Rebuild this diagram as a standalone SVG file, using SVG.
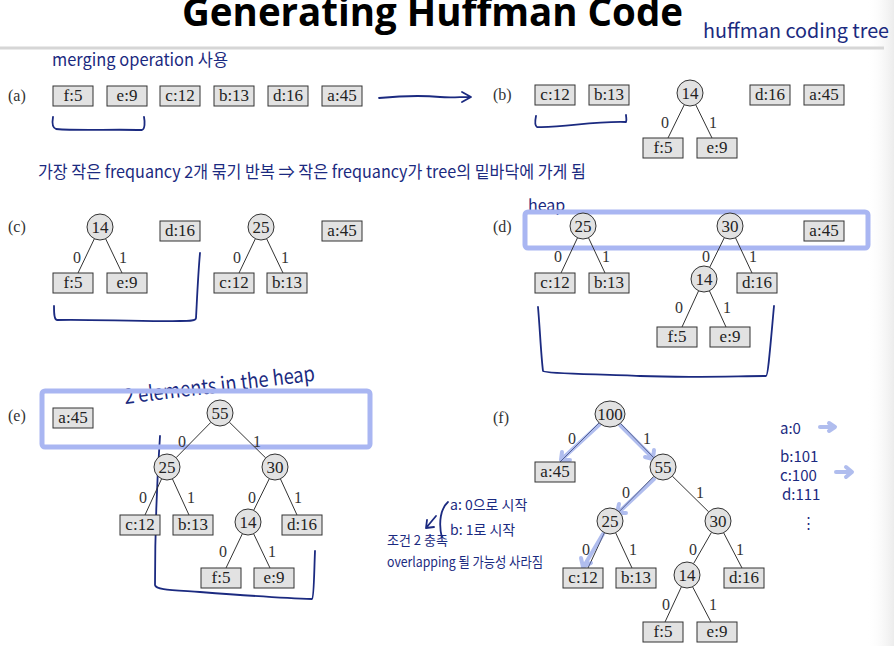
<svg xmlns="http://www.w3.org/2000/svg" width="894" height="646" viewBox="0 0 894 646">
<style>
.box{fill:#e2e2e2;stroke:#333;stroke-width:1}
.lbl{font-family:"Liberation Serif",serif;font-size:17px;fill:#222;text-anchor:middle}
.pl{font-family:"Liberation Serif",serif;font-size:16px;fill:#333}
.edge{stroke:#333;stroke-width:1;fill:none}
.el{font-family:"Liberation Serif",serif;font-size:16px;fill:#333;text-anchor:middle}
.hand{font-family:"Noto Sans CJK KR","Noto Sans",sans-serif;fill:#1b2a80}
.ink{fill:none;stroke:#1b2a80;stroke-width:1.8;stroke-linecap:round;stroke-linejoin:round}
.hl{fill:none;stroke:#a9b6f2;stroke-width:5}
.bl{fill:none;stroke:#6f86e0;stroke-opacity:0.55;stroke-width:4;stroke-linecap:round;stroke-linejoin:round}
</style>
<defs>
<linearGradient id="edgeg" x1="0" x2="1" y1="0" y2="0">
<stop offset="0" stop-color="#ffffff" stop-opacity="0"/>
<stop offset="1" stop-color="#ececec"/>
</linearGradient>
</defs>
<rect width="894" height="646" fill="#fff"/>
<rect x="866" y="0" width="28" height="646" fill="url(#edgeg)"/>

<text x="182" y="26" font-family="'Open Sans','Liberation Sans',sans-serif" font-weight="bold" font-size="40" textLength="501" lengthAdjust="spacingAndGlyphs" fill="#000">Generating Huffman Code</text>
<line x1="0" y1="48" x2="884" y2="48" stroke="#d6d6d6" stroke-width="3"/>

<!-- handwritten annotations -->
<g id="annotations">
<text class="hand" x="703" y="38" font-size="20" textLength="186" lengthAdjust="spacingAndGlyphs">huffman coding tree</text>
<text class="hand" x="52" y="66" font-size="17" textLength="176" lengthAdjust="spacingAndGlyphs">merging operation 사용</text>
<text class="hand" x="38" y="178" font-size="17" textLength="548" lengthAdjust="spacingAndGlyphs">가장 작은 frequancy 2개 묶기 반복 ⇒ 작은 frequancy가 tree의 밑바닥에 가게 됨</text>
<text class="hand" x="528" y="211" font-size="16">heap</text>
<text class="hand" x="125" y="404" font-size="21" textLength="192" lengthAdjust="spacingAndGlyphs" transform="rotate(-7 125 404)">2 elements in the heap</text>
<text class="hand" x="450" y="510" font-size="14">a: 0으로 시작</text>
<text class="hand" x="450" y="535" font-size="14">b: 1로 시작</text>
<text class="hand" x="387" y="545" font-size="13">조건 2 충족</text>
<text class="hand" x="387" y="567" font-size="14" textLength="156" lengthAdjust="spacingAndGlyphs">overlapping 될 가능성 사라짐</text>
<path class="ink" d="M448 502 C441 508 438 522 442 538"/>
<path class="ink" d="M436 516 L426 528 M426 528 L427 520 M426 528 L434 527"/>
<text class="hand" x="780" y="434" font-size="15">a:0</text>
<text class="hand" x="780" y="462" font-size="15">b:101</text>
<text class="hand" x="780" y="481" font-size="15">c:100</text>
<text class="hand" x="782" y="500" font-size="15">d:111</text>
<text class="hand" x="801" y="528" font-size="15">⋮</text>
<path class="bl" d="M820 427 L834 427 M829 423 L835 427 L829 431"/>
<path class="bl" d="M836 472 L851 472 M846 467 L852 472 L846 477"/>
<!-- brackets -->
<path class="ink" d="M53 117 C52 123 53 128 56 129 C80 131 110 129 142 130 C145 129 145 122 144 117"/>
<path class="ink" d="M536 116 C535 121 535 126 537 127 C565 128 590 121 626 122 C627 120 626 117 626 115"/>
<path class="ink" d="M200 253 C198 275 197 300 196 318 C196 321 190 321 180 321 C140 322 90 319 57 320 C54 320 54 312 54 306"/>
<path class="ink" d="M538 307 C540 330 541 355 543 371 C545 374 600 374 640 376 C690 378 740 376 766 376 C768 376 770 350 774 306"/>
<path class="ink" d="M160 436 C157 480 155 540 155 585 C156 590 170 590 200 592 C240 595 280 598 312 599 C314 598 314 575 315 551"/>
<!-- arrow (a) -> (b) -->
<path class="ink" d="M379 98 C400 96 420 95 440 97 C450 98 460 97 470 97 M462 92 L471 97 L462 102"/>
<!-- highlight boxes -->
<rect class="hl" x="525" y="212" width="343" height="36" rx="3"/>
<rect class="hl" x="42" y="391" width="328" height="56" rx="3"/>
</g>

<!-- panel labels -->
<g id="panel-labels">
<text class="pl" x="8" y="101">(a)</text>
<text class="pl" x="493" y="100">(b)</text>
<text class="pl" x="8" y="232">(c)</text>
<text class="pl" x="493" y="232">(d)</text>
<text class="pl" x="8" y="421">(e)</text>
<text class="pl" x="493" y="423">(f)</text>
</g>

<!-- connectors -->
<g id="connectors">
<!-- b -->
<line class="edge" x1="684.3" y1="104.7" x2="668" y2="138"/>
<line class="edge" x1="695.7" y1="104.7" x2="712" y2="138"/>
<!-- c -->
<line class="edge" x1="94.4" y1="238.7" x2="78" y2="273"/>
<line class="edge" x1="105.6" y1="238.7" x2="122" y2="273"/>
<line class="edge" x1="255.4" y1="238.7" x2="239" y2="273"/>
<line class="edge" x1="266.6" y1="238.7" x2="283" y2="273"/>
<!-- d -->
<line class="edge" x1="577.5" y1="237.8" x2="561" y2="273"/>
<line class="edge" x1="588.5" y1="237.8" x2="605" y2="273"/>
<line class="edge" x1="724.3" y1="237.7" x2="709.7" y2="267.3"/>
<line class="edge" x1="735.5" y1="237.8" x2="752" y2="273"/>
<line class="edge" x1="698.6" y1="290.8" x2="682" y2="327"/>
<line class="edge" x1="709.4" y1="290.8" x2="726" y2="327"/>
<!-- e -->
<line class="edge" x1="210.9" y1="422.3" x2="176.1" y2="457.7"/>
<line class="edge" x1="229.3" y1="422.1" x2="265.7" y2="457.9"/>
<line class="edge" x1="161.6" y1="478.8" x2="145" y2="515"/>
<line class="edge" x1="172.4" y1="478.8" x2="189" y2="515"/>
<line class="edge" x1="269.3" y1="478.7" x2="253.7" y2="510.3"/>
<line class="edge" x1="280.4" y1="478.8" x2="297" y2="515"/>
<line class="edge" x1="242.4" y1="533.7" x2="226" y2="568"/>
<line class="edge" x1="253.6" y1="533.7" x2="270" y2="568"/>
<!-- f -->
<line class="edge" x1="599" y1="423" x2="560" y2="462"/>
<line class="edge" x1="620.5" y1="423.5" x2="653.8" y2="457.8"/>
<line class="edge" x1="653.9" y1="476.3" x2="619.1" y2="511.7"/>
<line class="edge" x1="672.3" y1="476.1" x2="708.7" y2="511.9"/>
<line class="edge" x1="604.4" y1="532.7" x2="588" y2="568"/>
<line class="edge" x1="615.6" y1="532.7" x2="632" y2="568"/>
<line class="edge" x1="711.5" y1="532.3" x2="693.5" y2="563.7"/>
<line class="edge" x1="723.6" y1="532.7" x2="742" y2="568"/>
<line class="edge" x1="681.4" y1="586.8" x2="665" y2="622"/>
<line class="edge" x1="692.6" y1="586.8" x2="711" y2="622"/>
<!-- blue highlight arrows (f) -->
<path class="bl" d="M600 424 L562 459 M562 452 L561 460 L570 460"/>
<path class="bl" d="M620 425 L653 458 M645 457 L653 459 L654 450"/>
<path class="bl" d="M654 479 L619 512 M619 504 L617 513 L626 513"/>
<path class="bl" d="M603 534 L584 566 M581 558 L583 567 L591 563"/>
<!-- edge labels -->
<text class="el" x="665" y="128">0</text><text class="el" x="713" y="128">1</text>
<text class="el" x="77" y="263">0</text><text class="el" x="123" y="263">1</text>
<text class="el" x="237" y="263">0</text><text class="el" x="285" y="263">1</text>
<text class="el" x="558" y="262">0</text><text class="el" x="606" y="262">1</text>
<text class="el" x="706" y="262">0</text><text class="el" x="753" y="262">1</text>
<text class="el" x="679" y="313">0</text><text class="el" x="727" y="313">1</text>
<text class="el" x="182" y="447">0</text><text class="el" x="257" y="447">1</text>
<text class="el" x="143" y="503">0</text><text class="el" x="191" y="503">1</text>
<text class="el" x="252" y="503">0</text><text class="el" x="298" y="503">1</text>
<text class="el" x="223" y="557">0</text><text class="el" x="272" y="557">1</text>
<text class="el" x="572" y="444">0</text><text class="el" x="647" y="444">1</text>
<text class="el" x="626" y="498">0</text><text class="el" x="700" y="498">1</text>
<text class="el" x="586" y="555">0</text><text class="el" x="633" y="555">1</text>
<text class="el" x="693" y="555">0</text><text class="el" x="740" y="555">1</text>
<text class="el" x="666" y="610">0</text><text class="el" x="713" y="610">1</text>
</g>

<!-- (a) -->
<g id="a-f5"><rect class="box" x="53" y="86" width="40" height="20"/><text class="lbl" x="73" y="101">f:5</text></g>
<g id="a-e9"><rect class="box" x="107" y="86" width="40" height="20"/><text class="lbl" x="127" y="101">e:9</text></g>
<g id="a-c12"><rect class="box" x="160" y="86" width="40" height="20"/><text class="lbl" x="180" y="101">c:12</text></g>
<g id="a-b13"><rect class="box" x="214" y="86" width="40" height="20"/><text class="lbl" x="234" y="101">b:13</text></g>
<g id="a-d16"><rect class="box" x="268" y="86" width="40" height="20"/><text class="lbl" x="288" y="101">d:16</text></g>
<g id="a-a45"><rect class="box" x="322" y="86" width="40" height="20"/><text class="lbl" x="342" y="101">a:45</text></g>

<!-- (b) -->
<g id="b-c12"><rect class="box" x="535" y="85" width="40" height="20"/><text class="lbl" x="555" y="100">c:12</text></g>
<g id="b-b13"><rect class="box" x="589" y="85" width="40" height="20"/><text class="lbl" x="609" y="100">b:13</text></g>
<g id="b-n14"><circle class="box" cx="690" cy="93" r="13"/><text class="lbl" x="690" y="99">14</text></g>
<g id="b-d16"><rect class="box" x="750" y="85" width="40" height="20"/><text class="lbl" x="770" y="100">d:16</text></g>
<g id="b-a45"><rect class="box" x="804" y="85" width="40" height="20"/><text class="lbl" x="824" y="100">a:45</text></g>
<g id="b-f5"><rect class="box" x="643" y="138" width="40" height="20"/><text class="lbl" x="663" y="153">f:5</text></g>
<g id="b-e9"><rect class="box" x="697" y="138" width="40" height="20"/><text class="lbl" x="717" y="153">e:9</text></g>

<!-- (c) -->
<g id="c-n14"><circle class="box" cx="100" cy="227" r="13"/><text class="lbl" x="100" y="233">14</text></g>
<g id="c-f5"><rect class="box" x="53" y="273" width="40" height="20"/><text class="lbl" x="73" y="288">f:5</text></g>
<g id="c-e9"><rect class="box" x="107" y="273" width="40" height="20"/><text class="lbl" x="127" y="288">e:9</text></g>
<g id="c-d16"><rect class="box" x="160" y="221" width="40" height="20"/><text class="lbl" x="180" y="236">d:16</text></g>
<g id="c-n25"><circle class="box" cx="261" cy="227" r="13"/><text class="lbl" x="261" y="233">25</text></g>
<g id="c-c12"><rect class="box" x="214" y="273" width="40" height="20"/><text class="lbl" x="234" y="288">c:12</text></g>
<g id="c-b13"><rect class="box" x="267" y="273" width="40" height="20"/><text class="lbl" x="287" y="288">b:13</text></g>
<g id="c-a45"><rect class="box" x="322" y="221" width="40" height="20"/><text class="lbl" x="342" y="236">a:45</text></g>

<!-- (d) -->
<g id="d-n25"><circle class="box" cx="583" cy="226" r="13"/><text class="lbl" x="583" y="232">25</text></g>
<g id="d-c12"><rect class="box" x="535" y="273" width="40" height="20"/><text class="lbl" x="555" y="288">c:12</text></g>
<g id="d-b13"><rect class="box" x="589" y="273" width="40" height="20"/><text class="lbl" x="609" y="288">b:13</text></g>
<g id="d-n30"><circle class="box" cx="730" cy="226" r="13"/><text class="lbl" x="730" y="232">30</text></g>
<g id="d-n14"><circle class="box" cx="704" cy="279" r="13"/><text class="lbl" x="704" y="285">14</text></g>
<g id="d-d16"><rect class="box" x="737" y="273" width="40" height="20"/><text class="lbl" x="757" y="288">d:16</text></g>
<g id="d-f5"><rect class="box" x="657" y="327" width="40" height="20"/><text class="lbl" x="677" y="342">f:5</text></g>
<g id="d-e9"><rect class="box" x="710" y="327" width="40" height="20"/><text class="lbl" x="730" y="342">e:9</text></g>
<g id="d-a45"><rect class="box" x="804" y="221" width="40" height="20"/><text class="lbl" x="824" y="236">a:45</text></g>

<!-- (e) -->
<g id="e-a45"><rect class="box" x="53" y="408" width="40" height="20"/><text class="lbl" x="73" y="423">a:45</text></g>
<g id="e-n55"><circle class="box" cx="220" cy="413" r="13"/><text class="lbl" x="220" y="419">55</text></g>
<g id="e-n25"><circle class="box" cx="167" cy="467" r="13"/><text class="lbl" x="167" y="473">25</text></g>
<g id="e-n30"><circle class="box" cx="275" cy="467" r="13"/><text class="lbl" x="275" y="473">30</text></g>
<g id="e-c12"><rect class="box" x="120" y="515" width="40" height="20"/><text class="lbl" x="140" y="530">c:12</text></g>
<g id="e-b13"><rect class="box" x="173" y="515" width="40" height="20"/><text class="lbl" x="193" y="530">b:13</text></g>
<g id="e-n14"><circle class="box" cx="248" cy="522" r="13"/><text class="lbl" x="248" y="528">14</text></g>
<g id="e-d16"><rect class="box" x="282" y="515" width="40" height="20"/><text class="lbl" x="302" y="530">d:16</text></g>
<g id="e-f5"><rect class="box" x="201" y="568" width="40" height="20"/><text class="lbl" x="221" y="583">f:5</text></g>
<g id="e-e9"><rect class="box" x="254" y="568" width="40" height="20"/><text class="lbl" x="274" y="583">e:9</text></g>

<!-- (f) -->
<g id="f-n100"><ellipse class="box" cx="610" cy="414" rx="15" ry="13"/><text class="lbl" x="610" y="420">100</text></g>
<g id="f-a45"><rect class="box" x="535" y="462" width="40" height="20"/><text class="lbl" x="555" y="477">a:45</text></g>
<g id="f-n55"><circle class="box" cx="663" cy="467" r="13"/><text class="lbl" x="663" y="473">55</text></g>
<g id="f-n25"><circle class="box" cx="610" cy="521" r="13"/><text class="lbl" x="610" y="527">25</text></g>
<g id="f-n30"><circle class="box" cx="718" cy="521" r="13"/><text class="lbl" x="718" y="527">30</text></g>
<g id="f-c12"><rect class="box" x="563" y="568" width="40" height="20"/><text class="lbl" x="583" y="583">c:12</text></g>
<g id="f-b13"><rect class="box" x="616" y="568" width="40" height="20"/><text class="lbl" x="636" y="583">b:13</text></g>
<g id="f-n14"><circle class="box" cx="687" cy="575" r="13"/><text class="lbl" x="687" y="581">14</text></g>
<g id="f-d16"><rect class="box" x="724" y="568" width="40" height="20"/><text class="lbl" x="744" y="583">d:16</text></g>
<g id="f-f5"><rect class="box" x="643" y="622" width="40" height="20"/><text class="lbl" x="663" y="637">f:5</text></g>
<g id="f-e9"><rect class="box" x="697" y="622" width="40" height="20"/><text class="lbl" x="717" y="637">e:9</text></g>
</svg>
